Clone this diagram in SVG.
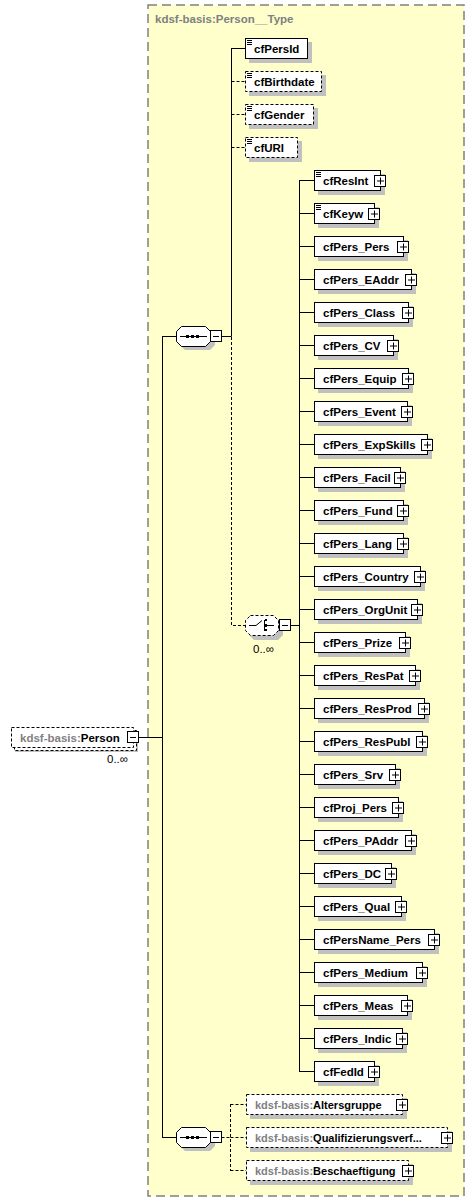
<svg xmlns="http://www.w3.org/2000/svg" width="475" height="1202" viewBox="0 0 475 1202">
<style>
.bg{fill:#ffffcc;stroke:#808080;stroke-width:1.5;stroke-dasharray:9,5}
.sh{fill:#c0c0c0;stroke:none}
.box{fill:#fff;stroke:#000;stroke-width:1}
.opt{fill:#fff;stroke:#000;stroke-width:1;stroke-dasharray:3,2}
.t{font-family:"Liberation Sans",Arial,sans-serif;font-weight:bold;font-size:11.5px;fill:#000}
.s{font-size:11px}
.g{fill:#808080}
.n{font-family:"Liberation Sans",Arial,sans-serif;font-size:11.5px;fill:#000}
.plus rect,.minus rect{fill:#fff;stroke:#000;stroke-width:1}
.plus path,.minus path{stroke:#000;stroke-width:1;fill:none}
.ic{stroke:#000;stroke-width:1;fill:none}
.ln{stroke:#000;stroke-width:1;fill:none}
.dl{stroke:#000;stroke-width:1;fill:none;stroke-dasharray:3,2}
</style>
<rect class="bg" x="148" y="5" width="316" height="1191"/>
<text class="t g" x="155" y="23">kdsf-basis:Person__Type</text>
<g id="connectors">
<path class="ln" d="M138 737.5H162.5M162.5 336V1138M162 336.5H176M162 1137.5H176"/>
<path class="ln" d="M221.5 336.5H231.5M231.5 48V336.5M231 48.5H245"/>
<path class="dl" d="M231.5 81.5H245M231.5 114.5H245M231.5 147.5H245M231.5 337V625.5H245"/>
<path class="ln" d="M290.5 625.5H299.5M299.5 180V1072"/>
<path class="ln" d="M299 180.5H314M299 213.5H314M299 246.5H314M299 279.5H314M299 312.5H314M299 345.5H314M299 378.5H314M299 411.5H314M299 444.5H314M299 477.5H314M299 510.5H314M299 543.5H314M299 576.5H314M299 609.5H314M299 642.5H314M299 675.5H314M299 708.5H314M299 741.5H314M299 774.5H314M299 807.5H314M299 840.5H314M299 873.5H314M299 906.5H314M299 939.5H314M299 972.5H314M299 1005.5H314M299 1038.5H314M299 1071.5H314"/>
<path class="dl" d="M221.5 1137.5H230.5M230.5 1104V1171M230.5 1104.5H246M230.5 1137.5H246M230.5 1170.5H246"/>
</g>
<g id="n-Person">
<rect class="sh" x="15" y="731" width="123" height="21"/>
<rect class="opt" x="14.5" y="730.5" width="122" height="20"/>
<rect class="opt" x="11.5" y="727.5" width="122" height="20"/>
<text class="t" x="20" y="741.5"><tspan class="g">kdsf-basis:</tspan>Person</text>
<g class="minus"><rect x="127.5" y="731.5" width="11" height="11"/><path d="M130 737.5H136"/></g>
<text class="n" x="107" y="763">0..∞</text>
</g>
<g id="n-seq1">
<polygon class="sh" points="185,330 210,330 215,335 215,345 210,350 185,350 180,345 180,335"/>
<polygon class="box" points="181.5,326.5 205.5,326.5 210.5,331.5 210.5,341.5 205.5,346.5 181.5,346.5 176.5,341.5 176.5,331.5"/>
<path class="ln" d="M180 336.5H207"/>
<rect x="186" y="335" width="3" height="3"/><rect x="191" y="335" width="3" height="3"/><rect x="196" y="335" width="3" height="3"/>
<g class="minus"><rect x="210.5" y="330.5" width="11" height="11"/><path d="M213 336.5H219"/></g>
</g>
<g id="n-choice">
<polygon class="sh" points="254,619 278,619 283,624 283,635 278,640 254,640 249,635 249,624"/>
<polygon class="opt" points="250.5,615.5 273.5,615.5 278.5,620.5 278.5,630.5 273.5,635.5 250.5,635.5 245.5,630.5 245.5,620.5"/>
<path class="ln" d="M249 625.5H256L262 620.5M264.5 620V631M267 625.5H274"/>
<rect x="265" y="619" width="2" height="2"/><rect x="265" y="624" width="2" height="3"/><rect x="265" y="629" width="2" height="2"/>
<g class="minus"><rect x="279.5" y="619.5" width="11" height="11"/><path d="M282 625.5H288"/></g>
<text class="n" x="253" y="653">0..∞</text>
</g>
<g id="n-seq2">
<polygon class="sh" points="185,1131 210,1131 215,1136 215,1146 210,1151 185,1151 180,1146 180,1136"/>
<polygon class="box" points="181.5,1127.5 205.5,1127.5 210.5,1132.5 210.5,1142.5 205.5,1147.5 181.5,1147.5 176.5,1142.5 176.5,1132.5"/>
<path class="ln" d="M180 1137.5H207"/>
<rect x="186" y="1136" width="3" height="3"/><rect x="191" y="1136" width="3" height="3"/><rect x="196" y="1136" width="3" height="3"/>
<g class="minus"><rect x="210.5" y="1131.5" width="11" height="11"/><path d="M213 1137.5H219"/></g>
</g>
<g id="n-cfPersId"><rect class="sh" x="249" y="42" width="63" height="21"/><rect class="box" x="245.5" y="38.5" width="62" height="20"/><path class="ic" d="M247 40.5H252M247 42.5H252M247 44.5H252"/><text class="t" x="254" y="52.5">cfPersId</text></g>
<g id="n-cfBirthdate"><rect class="sh" x="249" y="75" width="77" height="21"/><rect class="opt" x="245.5" y="71.5" width="76" height="20"/><path class="ic" d="M247 73.5H252M247 75.5H252M247 77.5H252"/><text class="t" x="254" y="85.5">cfBirthdate</text></g>
<g id="n-cfGender"><rect class="sh" x="249" y="108" width="69" height="21"/><rect class="opt" x="245.5" y="104.5" width="68" height="20"/><path class="ic" d="M247 106.5H252M247 108.5H252M247 110.5H252"/><text class="t" x="254" y="118.5">cfGender</text></g>
<g id="n-cfURI"><rect class="sh" x="249" y="141" width="53" height="21"/><rect class="opt" x="245.5" y="137.5" width="52" height="20"/><path class="ic" d="M247 139.5H252M247 141.5H252M247 143.5H252"/><text class="t" x="254" y="151.5">cfURI</text></g>
<g id="n-cfResInt"><rect class="sh" x="318" y="174" width="67" height="21"/><rect class="box" x="314.5" y="170.5" width="66" height="20"/><path class="ic" d="M316 172.5H321M316 174.5H321M316 176.5H321"/><text class="t" x="323" y="184.5">cfResInt</text><g class="plus"><rect x="374.5" y="175.5" width="11" height="11"/><path d="M377 181H384M380.5 177.5V184.5"/></g></g>
<g id="n-cfKeyw"><rect class="sh" x="318" y="207" width="61" height="21"/><rect class="box" x="314.5" y="203.5" width="60" height="20"/><path class="ic" d="M316 205.5H321M316 207.5H321M316 209.5H321"/><text class="t" x="323" y="217.5">cfKeyw</text><g class="plus"><rect x="368.5" y="208.5" width="11" height="11"/><path d="M371 214H378M374.5 210.5V217.5"/></g></g>
<g id="n-cfPers_Pers"><rect class="sh" x="318" y="240" width="90" height="21"/><rect class="box" x="314.5" y="236.5" width="89" height="20"/><text class="t" x="323" y="250.5">cfPers_Pers</text><g class="plus"><rect x="397.5" y="241.5" width="11" height="11"/><path d="M400 247H407M403.5 243.5V250.5"/></g></g>
<g id="n-cfPers_EAddr"><rect class="sh" x="318" y="273" width="98" height="21"/><rect class="box" x="314.5" y="269.5" width="97" height="20"/><text class="t" x="323" y="283.5">cfPers_EAddr</text><g class="plus"><rect x="405.5" y="274.5" width="11" height="11"/><path d="M408 280H415M411.5 276.5V283.5"/></g></g>
<g id="n-cfPers_Class"><rect class="sh" x="318" y="306" width="95" height="21"/><rect class="box" x="314.5" y="302.5" width="94" height="20"/><text class="t" x="323" y="316.5">cfPers_Class</text><g class="plus"><rect x="402.5" y="307.5" width="11" height="11"/><path d="M405 313H412M408.5 309.5V316.5"/></g></g>
<g id="n-cfPers_CV"><rect class="sh" x="318" y="339" width="80" height="21"/><rect class="box" x="314.5" y="335.5" width="79" height="20"/><text class="t" x="323" y="349.5">cfPers_CV</text><g class="plus"><rect x="387.5" y="340.5" width="11" height="11"/><path d="M390 346H397M393.5 342.5V349.5"/></g></g>
<g id="n-cfPers_Equip"><rect class="sh" x="318" y="372" width="95" height="21"/><rect class="box" x="314.5" y="368.5" width="94" height="20"/><text class="t" x="323" y="382.5">cfPers_Equip</text><g class="plus"><rect x="402.5" y="373.5" width="11" height="11"/><path d="M405 379H412M408.5 375.5V382.5"/></g></g>
<g id="n-cfPers_Event"><rect class="sh" x="318" y="405" width="94" height="21"/><rect class="box" x="314.5" y="401.5" width="93" height="20"/><text class="t" x="323" y="415.5">cfPers_Event</text><g class="plus"><rect x="401.5" y="406.5" width="11" height="11"/><path d="M404 412H411M407.5 408.5V415.5"/></g></g>
<g id="n-cfPers_ExpSkills"><rect class="sh" x="318" y="438" width="114" height="21"/><rect class="box" x="314.5" y="434.5" width="113" height="20"/><text class="t" x="323" y="448.5">cfPers_ExpSkills</text><g class="plus"><rect x="421.5" y="439.5" width="11" height="11"/><path d="M424 445H431M427.5 441.5V448.5"/></g></g>
<g id="n-cfPers_Facil"><rect class="sh" x="318" y="471" width="87" height="21"/><rect class="box" x="314.5" y="467.5" width="86" height="20"/><text class="t" x="323" y="481.5">cfPers_Facil</text><g class="plus"><rect x="394.5" y="472.5" width="11" height="11"/><path d="M397 478H404M400.5 474.5V481.5"/></g></g>
<g id="n-cfPers_Fund"><rect class="sh" x="318" y="504" width="90" height="21"/><rect class="box" x="314.5" y="500.5" width="89" height="20"/><text class="t" x="323" y="514.5">cfPers_Fund</text><g class="plus"><rect x="397.5" y="505.5" width="11" height="11"/><path d="M400 511H407M403.5 507.5V514.5"/></g></g>
<g id="n-cfPers_Lang"><rect class="sh" x="318" y="537" width="90" height="21"/><rect class="box" x="314.5" y="533.5" width="89" height="20"/><text class="t" x="323" y="547.5">cfPers_Lang</text><g class="plus"><rect x="397.5" y="538.5" width="11" height="11"/><path d="M400 544H407M403.5 540.5V547.5"/></g></g>
<g id="n-cfPers_Country"><rect class="sh" x="318" y="570" width="107" height="21"/><rect class="box" x="314.5" y="566.5" width="106" height="20"/><text class="t" x="323" y="580.5">cfPers_Country</text><g class="plus"><rect x="414.5" y="571.5" width="11" height="11"/><path d="M417 577H424M420.5 573.5V580.5"/></g></g>
<g id="n-cfPers_OrgUnit"><rect class="sh" x="318" y="603" width="104" height="21"/><rect class="box" x="314.5" y="599.5" width="103" height="20"/><text class="t" x="323" y="613.5">cfPers_OrgUnit</text><g class="plus"><rect x="411.5" y="604.5" width="11" height="11"/><path d="M414 610H421M417.5 606.5V613.5"/></g></g>
<g id="n-cfPers_Prize"><rect class="sh" x="318" y="636" width="92" height="21"/><rect class="box" x="314.5" y="632.5" width="91" height="20"/><text class="t" x="323" y="646.5">cfPers_Prize</text><g class="plus"><rect x="399.5" y="637.5" width="11" height="11"/><path d="M402 643H409M405.5 639.5V646.5"/></g></g>
<g id="n-cfPers_ResPat"><rect class="sh" x="318" y="669" width="102" height="21"/><rect class="box" x="314.5" y="665.5" width="101" height="20"/><text class="t" x="323" y="679.5">cfPers_ResPat</text><g class="plus"><rect x="409.5" y="670.5" width="11" height="11"/><path d="M412 676H419M415.5 672.5V679.5"/></g></g>
<g id="n-cfPers_ResProd"><rect class="sh" x="318" y="702" width="111" height="21"/><rect class="box" x="314.5" y="698.5" width="110" height="20"/><text class="t" x="323" y="712.5">cfPers_ResProd</text><g class="plus"><rect x="418.5" y="703.5" width="11" height="11"/><path d="M421 709H428M424.5 705.5V712.5"/></g></g>
<g id="n-cfPers_ResPubl"><rect class="sh" x="318" y="735" width="109" height="21"/><rect class="box" x="314.5" y="731.5" width="108" height="20"/><text class="t" x="323" y="745.5">cfPers_ResPubl</text><g class="plus"><rect x="416.5" y="736.5" width="11" height="11"/><path d="M419 742H426M422.5 738.5V745.5"/></g></g>
<g id="n-cfPers_Srv"><rect class="sh" x="318" y="768" width="82" height="21"/><rect class="box" x="314.5" y="764.5" width="81" height="20"/><text class="t" x="323" y="778.5">cfPers_Srv</text><g class="plus"><rect x="389.5" y="769.5" width="11" height="11"/><path d="M392 775H399M395.5 771.5V778.5"/></g></g>
<g id="n-cfProj_Pers"><rect class="sh" x="318" y="801" width="85" height="21"/><rect class="box" x="314.5" y="797.5" width="84" height="20"/><text class="t" x="323" y="811.5">cfProj_Pers</text><g class="plus"><rect x="392.5" y="802.5" width="11" height="11"/><path d="M395 808H402M398.5 804.5V811.5"/></g></g>
<g id="n-cfPers_PAddr"><rect class="sh" x="318" y="834" width="98" height="21"/><rect class="box" x="314.5" y="830.5" width="97" height="20"/><text class="t" x="323" y="844.5">cfPers_PAddr</text><g class="plus"><rect x="405.5" y="835.5" width="11" height="11"/><path d="M408 841H415M411.5 837.5V844.5"/></g></g>
<g id="n-cfPers_DC"><rect class="sh" x="318" y="867" width="78" height="21"/><rect class="box" x="314.5" y="863.5" width="77" height="20"/><text class="t" x="323" y="877.5">cfPers_DC</text><g class="plus"><rect x="385.5" y="868.5" width="11" height="11"/><path d="M388 874H395M391.5 870.5V877.5"/></g></g>
<g id="n-cfPers_Qual"><rect class="sh" x="318" y="900" width="88" height="21"/><rect class="box" x="314.5" y="896.5" width="87" height="20"/><text class="t" x="323" y="910.5">cfPers_Qual</text><g class="plus"><rect x="395.5" y="901.5" width="11" height="11"/><path d="M398 907H405M401.5 903.5V910.5"/></g></g>
<g id="n-cfPersName_Pers"><rect class="sh" x="318" y="933" width="121" height="21"/><rect class="box" x="314.5" y="929.5" width="120" height="20"/><text class="t" x="323" y="943.5">cfPersName_Pers</text><g class="plus"><rect x="428.5" y="934.5" width="11" height="11"/><path d="M431 940H438M434.5 936.5V943.5"/></g></g>
<g id="n-cfPers_Medium"><rect class="sh" x="318" y="966" width="109" height="21"/><rect class="box" x="314.5" y="962.5" width="108" height="20"/><text class="t" x="323" y="976.5">cfPers_Medium</text><g class="plus"><rect x="416.5" y="967.5" width="11" height="11"/><path d="M419 973H426M422.5 969.5V976.5"/></g></g>
<g id="n-cfPers_Meas"><rect class="sh" x="318" y="999" width="94" height="21"/><rect class="box" x="314.5" y="995.5" width="93" height="20"/><text class="t" x="323" y="1009.5">cfPers_Meas</text><g class="plus"><rect x="401.5" y="1000.5" width="11" height="11"/><path d="M404 1006H411M407.5 1002.5V1009.5"/></g></g>
<g id="n-cfPers_Indic"><rect class="sh" x="318" y="1032" width="89" height="21"/><rect class="box" x="314.5" y="1028.5" width="88" height="20"/><text class="t" x="323" y="1042.5">cfPers_Indic</text><g class="plus"><rect x="396.5" y="1033.5" width="11" height="11"/><path d="M399 1039H406M402.5 1035.5V1042.5"/></g></g>
<g id="n-cfFedId"><rect class="sh" x="318" y="1065" width="61" height="21"/><rect class="box" x="314.5" y="1061.5" width="60" height="20"/><text class="t" x="323" y="1075.5">cfFedId</text><g class="plus"><rect x="368.5" y="1066.5" width="11" height="11"/><path d="M371 1072H378M374.5 1068.5V1075.5"/></g></g>
<g id="n-Altersgruppe"><rect class="sh" x="250" y="1098" width="157" height="21"/><rect class="opt" x="246.5" y="1094.5" width="156" height="20"/><text class="t s" x="255" y="1108.5"><tspan class="g">kdsf-basis:</tspan>Altersgruppe</text><g class="plus"><rect x="396.5" y="1099.5" width="11" height="11"/><path d="M399 1105H406M402.5 1101.5V1108.5"/></g></g>
<g id="n-Qualifizierungsverf"><rect class="sh" x="250" y="1131" width="202" height="21"/><rect class="opt" x="246.5" y="1127.5" width="201" height="20"/><text class="t s" x="255" y="1141.5"><tspan class="g">kdsf-basis:</tspan>Qualifizierungsverf...</text><g class="plus"><rect x="441.5" y="1132.5" width="11" height="11"/><path d="M444 1138H451M447.5 1134.5V1141.5"/></g></g>
<g id="n-Beschaeftigung"><rect class="sh" x="250" y="1164" width="163" height="21"/><rect class="opt" x="246.5" y="1160.5" width="162" height="20"/><text class="t s" x="255" y="1174.5"><tspan class="g">kdsf-basis:</tspan>Beschaeftigung</text><g class="plus"><rect x="402.5" y="1165.5" width="11" height="11"/><path d="M405 1171H412M408.5 1167.5V1174.5"/></g></g>
</svg>
